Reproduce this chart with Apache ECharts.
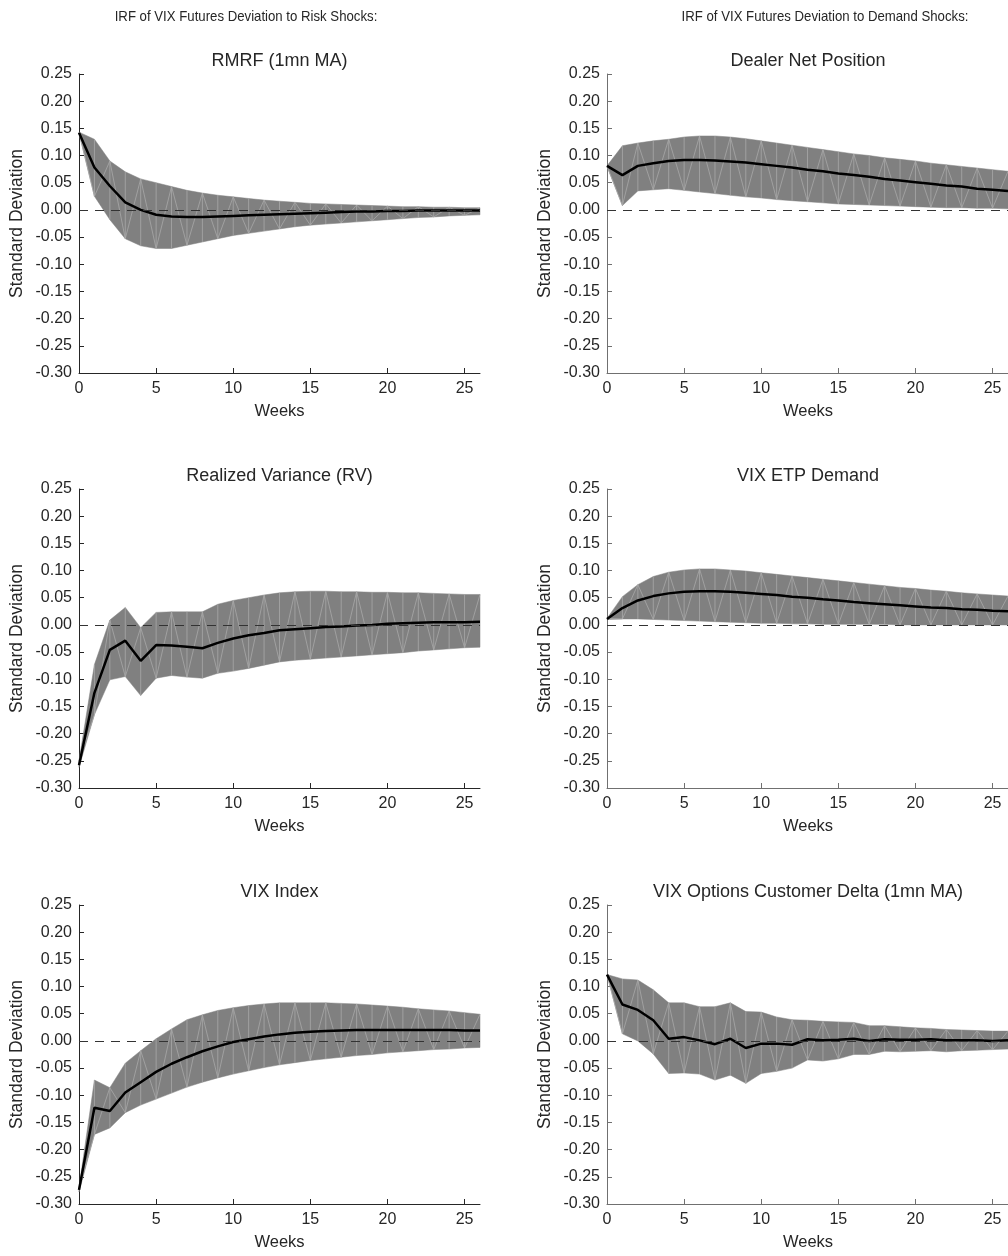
<!DOCTYPE html>
<html><head><meta charset="utf-8">
<script src="https://cdn.jsdelivr.net/npm/echarts@6/dist/echarts.min.js"></script>
<style>html,body{margin:0;padding:0;background:#fff}#c{width:1008px;height:1256px}</style>
</head><body><div id="c"></div>
<script>
const weeks = [0,1,2,3,4,5,6,7,8,9,10,11,12,13,14,15,16,17,18,19,20,21,22,23,24,25,26];
const xTicks = [0,5,10,15,20,25];
const yTicks = [-0.30,-0.25,-0.20,-0.15,-0.10,-0.05,0.00,0.05,0.10,0.15,0.20,0.25];

const headers = ["IRF of VIX Futures Deviation to Risk Shocks:", "IRF of VIX Futures Deviation to Demand Shocks:"];
const titles = ["RMRF (1mn MA)", "Dealer Net Position", "Realized Variance (RV)", "VIX ETP Demand", "VIX Index", "VIX Options Customer Delta (1mn MA)"];
const xName = "Weeks";
const yName = "Standard Deviation";

// RMRF (1mn MA)
const rmrfMean  = [0.142,0.078,0.044,0.014,0.000,-0.009,-0.012,-0.013,-0.013,-0.012,-0.011,-0.010,-0.009,-0.008,-0.007,-0.006,-0.005,-0.004,-0.003,-0.003,-0.002,-0.002,-0.001,-0.001,-0.001,-0.001,-0.001];
const rmrfUpper = [0.143,0.130,0.090,0.070,0.057,0.050,0.043,0.036,0.031,0.027,0.024,0.021,0.018,0.016,0.014,0.012,0.011,0.010,0.009,0.008,0.007,0.006,0.006,0.005,0.005,0.004,0.004];
const rmrfLower = [0.141,0.025,-0.018,-0.053,-0.066,-0.071,-0.071,-0.065,-0.059,-0.053,-0.047,-0.043,-0.039,-0.035,-0.031,-0.028,-0.026,-0.024,-0.022,-0.020,-0.018,-0.016,-0.014,-0.013,-0.011,-0.010,-0.009];

// Realized Variance (RV)
const rvMean  = [-0.258,-0.125,-0.046,-0.029,-0.066,-0.037,-0.038,-0.040,-0.043,-0.033,-0.025,-0.019,-0.015,-0.010,-0.008,-0.006,-0.004,-0.003,-0.001,0.000,0.002,0.003,0.004,0.005,0.005,0.005,0.006];
const rvUpper = [-0.250,-0.073,0.009,0.032,-0.005,0.023,0.024,0.024,0.024,0.038,0.045,0.050,0.055,0.059,0.061,0.062,0.062,0.061,0.061,0.060,0.060,0.059,0.059,0.058,0.057,0.056,0.056];
const rvLower = [-0.262,-0.165,-0.101,-0.095,-0.130,-0.098,-0.093,-0.096,-0.098,-0.089,-0.085,-0.080,-0.074,-0.068,-0.065,-0.063,-0.061,-0.059,-0.057,-0.055,-0.053,-0.051,-0.048,-0.046,-0.044,-0.042,-0.041];

// VIX Index
const vixMean  = [-0.274,-0.123,-0.129,-0.095,-0.076,-0.057,-0.042,-0.030,-0.019,-0.010,-0.002,0.003,0.008,0.012,0.015,0.017,0.018,0.019,0.020,0.020,0.020,0.020,0.020,0.020,0.020,0.019,0.019];
const vixUpper = [-0.270,-0.072,-0.086,-0.041,-0.018,0.004,0.022,0.039,0.048,0.056,0.061,0.065,0.068,0.070,0.070,0.070,0.070,0.069,0.068,0.066,0.064,0.062,0.059,0.057,0.055,0.052,0.049];
const vixLower = [-0.278,-0.172,-0.160,-0.132,-0.118,-0.107,-0.096,-0.085,-0.076,-0.068,-0.061,-0.055,-0.049,-0.044,-0.040,-0.036,-0.033,-0.030,-0.027,-0.025,-0.022,-0.020,-0.018,-0.016,-0.015,-0.013,-0.012];

// Dealer Net Position
const dealerMean  = [0.081,0.064,0.081,0.086,0.090,0.092,0.092,0.091,0.089,0.087,0.084,0.081,0.078,0.074,0.071,0.067,0.064,0.061,0.057,0.054,0.051,0.048,0.045,0.043,0.039,0.037,0.035];
const dealerUpper = [0.081,0.118,0.123,0.127,0.130,0.134,0.136,0.136,0.134,0.131,0.127,0.123,0.119,0.115,0.111,0.107,0.103,0.100,0.096,0.093,0.090,0.086,0.083,0.080,0.077,0.074,0.071];
const dealerLower = [0.080,0.008,0.035,0.037,0.039,0.036,0.033,0.030,0.027,0.024,0.022,0.019,0.017,0.015,0.013,0.011,0.010,0.009,0.008,0.007,0.006,0.005,0.004,0.004,0.003,0.003,0.002];

// VIX ETP Demand
const etpMean  = [0.011,0.031,0.045,0.053,0.058,0.061,0.062,0.062,0.061,0.059,0.057,0.055,0.052,0.050,0.047,0.045,0.042,0.040,0.038,0.036,0.034,0.032,0.031,0.029,0.028,0.026,0.025];
const etpUpper = [0.012,0.052,0.074,0.089,0.097,0.101,0.103,0.103,0.101,0.099,0.096,0.093,0.090,0.087,0.084,0.081,0.078,0.075,0.072,0.069,0.067,0.064,0.062,0.059,0.057,0.055,0.053];
const etpLower = [0.010,0.011,0.011,0.010,0.009,0.008,0.007,0.006,0.005,0.004,0.003,0.003,0.002,0.002,0.001,0.001,0.001,0.001,0.001,0.000,0.000,0.000,0.000,0.000,0.000,0.000,0.000];

// VIX Options Customer Delta (1mn MA)
const deltaMean  = [0.122,0.067,0.057,0.038,0.004,0.007,0.001,-0.006,0.004,-0.013,-0.005,-0.005,-0.007,0.003,0.001,0.002,0.004,0.000,0.003,0.002,0.002,0.003,0.001,0.001,0.001,0.000,0.001];
const deltaUpper = [0.122,0.114,0.112,0.094,0.070,0.070,0.063,0.063,0.070,0.054,0.053,0.044,0.039,0.038,0.036,0.035,0.034,0.028,0.028,0.026,0.024,0.023,0.021,0.020,0.019,0.018,0.018];
const deltaLower = [0.122,0.013,0.000,-0.024,-0.060,-0.059,-0.061,-0.072,-0.063,-0.078,-0.060,-0.056,-0.050,-0.035,-0.037,-0.033,-0.025,-0.025,-0.019,-0.020,-0.019,-0.018,-0.020,-0.018,-0.017,-0.016,-0.015];

const panels = [
  {mean: rmrfMean,   upper: rmrfUpper,   lower: rmrfLower},
  {mean: dealerMean, upper: dealerUpper, lower: dealerLower},
  {mean: rvMean,     upper: rvUpper,     lower: rvLower},
  {mean: etpMean,    upper: etpUpper,    lower: etpLower},
  {mean: vixMean,    upper: vixUpper,    lower: vixLower},
  {mean: deltaMean,  upper: deltaUpper,  lower: deltaLower}
];

const FONT = 'Liberation Sans, Arial, Helvetica, sans-serif';
const TXT = '#262626';
const colLeft = [79, 607];
const colWidth = [401, 402];
const rowTop = [74, 489, 905];
const plotH = 299;
const axisCol = ['#262626', '#707070'];

function bandRenderer(up, lo) {
  return function (params, api) {
    const top = up.map((v, i) => api.coord([weeks[i], v]));
    const bot = lo.map((v, i) => api.coord([weeks[i], v]));
    const poly = top.concat(bot.slice().reverse());
    const children = [{type: 'polygon', shape: {points: poly}, style: {fill: '#808080', stroke: '#808080', lineWidth: 0.5}}];
    const zz = weeks.map((w, i) => (i % 2 === 0 ? top[i] : bot[i]));
    children.push({type: 'polyline', shape: {points: zz}, style: {stroke: '#a8a8a8', lineWidth: 0.8, fill: null}});
    for (let i = 1; i < weeks.length - 1; i++) {
      children.push({type: 'line', shape: {x1: top[i][0], y1: top[i][1], x2: bot[i][0], y2: bot[i][1]}, style: {stroke: '#a8a8a8', lineWidth: 0.8}});
    }
    return {type: 'group', children: children};
  };
}

const grids = [], xAxes = [], yAxes = [], series = [], graphics = [];
panels.forEach((p, k) => {
  const col = k % 2, row = Math.floor(k / 2);
  grids.push({left: colLeft[col], top: rowTop[row], width: colWidth[col], height: plotH, containLabel: false});
  xAxes.push({
    type: 'value', gridIndex: k, min: 0, max: 26,
    axisLine: {show: true, onZero: false, lineStyle: {color: axisCol[col], width: 1}},
    axisTick: {show: true, inside: true, length: 5, customValues: xTicks, lineStyle: {color: axisCol[col]}},
    axisLabel: {customValues: xTicks, fontSize: 16, color: TXT, fontFamily: FONT, margin: 8},
    splitLine: {show: false}
  });
  yAxes.push({
    type: 'value', gridIndex: k, min: -0.30, max: 0.25,
    axisLine: {show: true, onZero: false, lineStyle: {color: axisCol[col], width: 1}},
    axisTick: {show: true, inside: true, length: 5, customValues: yTicks, lineStyle: {color: axisCol[col]}},
    axisLabel: {customValues: yTicks, fontSize: 16, color: TXT, fontFamily: FONT, margin: 7, formatter: v => v.toFixed(2)},
    splitLine: {show: false}
  });
  series.push({
    type: 'custom', xAxisIndex: k, yAxisIndex: k, data: [[0, 0]], silent: true, z: 1, clip: false,
    renderItem: bandRenderer(p.upper, p.lower)
  });
  series.push({
    type: 'line', xAxisIndex: k, yAxisIndex: k, z: 3, showSymbol: false, symbol: 'none', silent: true,
    data: weeks.map((w, i) => [w, p.mean[i]]),
    lineStyle: {color: '#000', width: 2.5},
    markLine: {silent: true, symbol: 'none', label: {show: false}, animation: false,
      lineStyle: {color: '#333333', type: [9, 7], width: 1.2}, data: [{yAxis: 0}]}
  });
  const cx = colLeft[col] + colWidth[col] / 2;
  graphics.push({type: 'text', x: cx, y: rowTop[row] - 13, style: {text: titles[k], x: 0, y: 0, align: 'center', verticalAlign: 'middle', fontSize: 18, fontFamily: FONT, fill: TXT}});
  graphics.push({type: 'text', x: cx, y: rowTop[row] + plotH + 38, style: {text: xName, x: 0, y: 0, align: 'center', verticalAlign: 'middle', fontSize: 16.5, fontFamily: FONT, fill: TXT}});
  graphics.push({type: 'text', x: col === 0 ? 17 : 545, y: rowTop[row] + plotH / 2, rotation: Math.PI / 2, style: {text: yName, x: 0, y: 0, align: 'center', verticalAlign: 'middle', fontSize: 17.5, fontFamily: FONT, fill: TXT}});
});
graphics.push({type: 'text', x: 246, y: 17, scaleX: 0.88, style: {text: headers[0], x: 0, y: 0, align: 'center', verticalAlign: 'middle', fontSize: 15, fontFamily: FONT, fill: TXT}});
graphics.push({type: 'text', x: 825, y: 17, scaleX: 0.88, style: {text: headers[1], x: 0, y: 0, align: 'center', verticalAlign: 'middle', fontSize: 15, fontFamily: FONT, fill: TXT}});

const chart = echarts.init(document.getElementById('c'), null, {renderer: 'canvas'});
chart.setOption({
  animation: false,
  backgroundColor: '#fff',
  grid: grids, xAxis: xAxes, yAxis: yAxes, series: series, graphic: graphics
});
</script></body></html>
